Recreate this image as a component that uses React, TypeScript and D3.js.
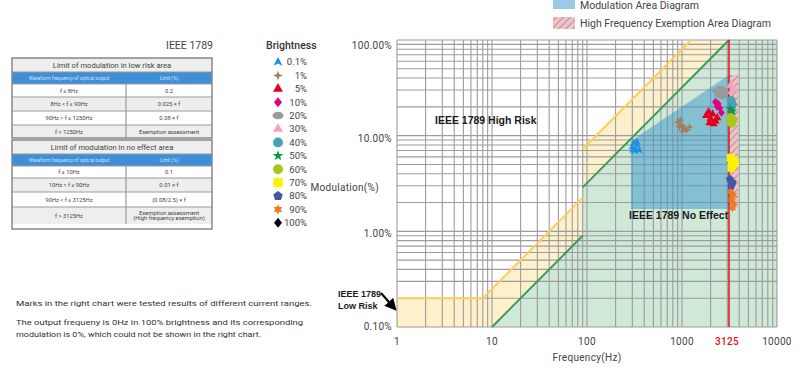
import React from 'react';
import * as d3 from 'd3';

// axis values
const xTicks = [1, 10, 100, 1000, 10000];
const yTicks = [0.1, 1, 10, 100];
const yTickLabels = ['0.10%', '1.00%', '10.00%', '100.00%'];
const exemptFreq = 3125;

// IEEE 1789 limit lines [freq Hz, modulation %]
const lowRiskLine = [[1, 0.2], [8, 0.2], [90, 2.25], [90, 7.2], [1250, 100]];
const noEffectLine = [[10, 0.1], [90, 0.9], [90, 2.88], [3125, 100]];
const modulationArea = [[290, 8.8], [3125, 43], [3125, 1.71], [290, 1.71]];
const exemptionArea = [[3125, 43], [3900, 43], [3900, 1.71], [3125, 1.71]];

// measured marks per brightness
const brightness = ['0.1%', '1%', '5%', '10%', '20%', '30%', '40%', '50%', '60%', '70%', '80%', '90%', '100%'];
const marks = [
  [[300, 7.6], [312, 8.4], [325, 7.2], [340, 7.9], [355, 7.0], [318, 6.9], [335, 8.6], [305, 7.1]],
  [[900, 13.8], [960, 14.6], [1000, 12.8], [1050, 12.0], [1120, 11.4], [1200, 12.3], [1010, 11.1], [940, 12.4]],
  [[1800, 16.2], [1900, 17.6], [2000, 15.0], [2100, 16.8], [2250, 14.2], [2350, 15.4], [1950, 13.6], [2150, 13.3]],
  [[2250, 22.5], [2400, 21.4], [2500, 19.5], [2600, 17.4], [2350, 20.2]],
  [[2350, 29.5], [2550, 30.8], [2800, 28.2], [2650, 26.0], [2450, 27.0]],
  [[3250, 33.5], [3450, 32.0], [3350, 28.8], [3600, 30.5]],
  [[3300, 23.5], [3420, 21.2], [3330, 19.8]],
  [[3200, 19.2], [3420, 18.0], [3300, 16.6]],
  [[3250, 15.6], [3480, 14.6], [3350, 13.4], [3200, 14.0]],
  [[3250, 5.9], [3520, 5.5], [3350, 5.0], [3620, 5.2], [3300, 4.6]],
  [[3200, 3.5], [3420, 3.25], [3300, 2.95]],
  [[3250, 2.6], [3480, 2.4], [3300, 2.15], [3500, 1.95], [3400, 1.75]],
  [],
];
const markColors = ['#1e90e0', '#a87a58', '#e4001c', '#e2007e', '#9a9a9a', '#f3a3c3', '#47a2b8', '#0a9a48', '#a6c81e', '#fff200', '#4356a8', '#f07a1e', '#000000'];
const markShapes = ['arrow', 'sparkle', 'tri', 'diamond', 'ellipse', 'tri', 'circle', 'star', 'circle', 'square', 'pentagon', 'star6', 'diamond'];

// tables
const lowRiskRows = [
  ['f ≤ 8Hz', '0.2'],
  ['8Hz < f ≤ 90Hz', '0.025 × f'],
  ['90Hz < f ≤ 1250Hz', '0.08 × f'],
  ['f > 1250Hz', 'Exemption assessment'],
];
const noEffectRows = [
  ['f ≤ 10Hz', '0.1'],
  ['10Hz < f ≤ 90Hz', '0.01 × f'],
  ['90Hz < f ≤ 3125Hz', '(0.08/2.5) × f'],
  ['f > 3125Hz', 'Exemption assessment|(High frequency exemption)'],
];

const FONT = 'Roboto, "Noto Sans", sans-serif';
const BOLD = '"Liberation Sans", Arial, sans-serif';

function starPath(n: number, ro: number, ri: number, rot = -Math.PI / 2) {
  const p: string[] = [];
  for (let i = 0; i < n * 2; i++) {
    const r = i % 2 === 0 ? ro : ri;
    const a = rot + (i * Math.PI) / n;
    p.push(`${(r * Math.cos(a)).toFixed(2)},${(r * Math.sin(a)).toFixed(2)}`);
  }
  return 'M' + p.join('L') + 'Z';
}

function polyPath(n: number, r: number) {
  const p: string[] = [];
  for (let i = 0; i < n; i++) {
    const a = -Math.PI / 2 + (i * 2 * Math.PI) / n;
    p.push(`${(r * Math.cos(a)).toFixed(2)},${(r * Math.sin(a)).toFixed(2)}`);
  }
  return 'M' + p.join('L') + 'Z';
}

function shapePath(shape: string, r: number) {
  switch (shape) {
    case 'arrow':
      return `M0,${-r}L${r * 0.9},${r * 0.75}L0,${r * 0.3}L${-r * 0.9},${r * 0.75}Z`;
    case 'sparkle':
      return starPath(4, r, r * 0.35);
    case 'tri':
      return d3.symbol(d3.symbolTriangle, r * r * 1.7)()!;
    case 'diamond':
      return `M0,${-r}L${r * 0.8},0L0,${r}L${-r * 0.8},0Z`;
    case 'ellipse':
      return `M${-r * 1.1},0A${r * 1.1},${r * 0.75} 0 1,0 ${r * 1.1},0A${r * 1.1},${r * 0.75} 0 1,0 ${-r * 1.1},0Z`;
    case 'circle':
      return d3.symbol(d3.symbolCircle, r * r * 3.1)()!;
    case 'star':
      return starPath(5, r * 1.1, r * 0.45);
    case 'square':
      return d3.symbol(d3.symbolSquare, r * r * 3.4)()!;
    case 'pentagon':
      return polyPath(5, r);
    case 'star6':
      return starPath(6, r, r * 0.55);
    default:
      return d3.symbol(d3.symbolCircle, r * r * 3)()!;
  }
}

function Table({ top, title, rows, heights }: { top: number; title: string; rows: string[][]; heights: number[] }) {
  const left = 12, right = 212, mid = 126;
  let yy = top + 14 + 12;
  return (
    <g>
      <rect x={left} y={top} width={right - left} height={14} fill="#eeeeee" />
      <text x={(left + right) / 2} y={top + 7} dy="0.35em" textAnchor="middle" fontSize={7.6} fill="#444">{title}</text>
      <rect x={left} y={top + 14} width={right - left} height={12} fill="#3f8fd8" />
      <text x={(left + mid) / 2} y={top + 20} dy="0.35em" textAnchor="middle" fontSize={4.8} fill="#cfe3f6">Waveform frequency of optical output</text>
      <text x={(mid + right) / 2} y={top + 20} dy="0.35em" textAnchor="middle" fontSize={4.8} fill="#cfe3f6">Limit (%)</text>
      {rows.map((r, i) => {
        const h = heights[i];
        const y0 = yy;
        yy += h;
        const parts = r[1].split('|');
        return (
          <g key={i}>
            <rect x={left} y={y0} width={right - left} height={h} fill={i % 2 === 0 ? '#ffffff' : '#eeeeee'} />
            <line x1={left} x2={right} y1={y0} y2={y0} stroke="#999" strokeWidth={1.2} />
            <line x1={mid} x2={mid} y1={y0} y2={y0 + h} stroke="#999" strokeWidth={1.2} />
            <text x={(left + mid) / 2} y={y0 + h / 2} dy="0.35em" textAnchor="middle" fontSize={5.8} fill="#444">{r[0]}</text>
            {parts.map((p, j) => (
              <text key={j} x={(mid + right) / 2} y={y0 + h / 2 + (j - (parts.length - 1) / 2) * 5.6} dy="0.35em" textAnchor="middle" fontSize={5.8} fill="#444">{p}</text>
            ))}
          </g>
        );
      })}
      <line x1={left} x2={right} y1={top + 14} y2={top + 14} stroke="#999" strokeWidth={1} />
    </g>
  );
}

export default function App() {
  const x = d3.scaleLog().domain([1, 10000]).range([397, 777]);
  const y = d3.scaleLog().domain([0.1, 100]).range([327, 40]);
  const line = d3.line<number[]>().x((d) => x(d[0])).y((d) => y(d[1]));
  // stroke only the sloped / flat parts, skip the vertical jumps at 90Hz
  const strokePath = (pts: number[][]) =>
    pts.slice(1).map((p, i) => (p[0] === pts[i][0] ? '' : line([pts[i], p]))).join('');

  const xGrid: number[] = [];
  for (let d = 0; d < 4; d++) for (let k = 1; k < 10; k++) xGrid.push(k * Math.pow(10, d));
  xGrid.push(10000);
  const yGrid: number[] = [];
  for (let d = -1; d < 2; d++) for (let k = 1; k < 10; k++) yGrid.push(k * Math.pow(10, d));
  yGrid.push(100);

  const yellowFill = [...lowRiskLine, [exemptFreq, 100], ...noEffectLine.slice().reverse(), [1, 0.1]];
  const greenFill = [...noEffectLine, [10000, 100], [10000, 0.1]];

  return (
    <svg width={800} height={369} style={{ position: 'absolute', left: 0, top: 0, fontFamily: FONT }}>
      <defs>
        <pattern id="hatch" patternUnits="userSpaceOnUse" width={5} height={5} patternTransform="rotate(45)">
          <rect width={5} height={5} fill="#f0c2c6" />
          <line x1={0} y1={0} x2={0} y2={5} stroke="#666" strokeWidth={1} />
        </pattern>
        <marker id="arrowHead" viewBox="0 0 10 10" refX={8} refY={5} markerWidth={6} markerHeight={6} orient="auto">
          <path d="M0,0L10,5L0,10Z" fill="#000" />
        </marker>
      </defs>

      {/* top legend */}
      <rect x={553} y={-2} width={22} height={11} fill="#3a96cc" fillOpacity={0.5} />
      <text x={580} y={5} dy="0.35em" fontSize={10.5} fill="#444">Modulation Area Diagram</text>
      <rect x={553} y={17} width={22} height={12} fill="url(#hatch)" />
      <text x={580} y={23.5} dy="0.35em" fontSize={10.5} fill="#444">High Frequency Exemption Area Diagram</text>

      {/* tables */}
      <text x={213} y={45} dy="0.35em" textAnchor="end" fontSize={10.5} fill="#444">IEEE 1789</text>
      <Table top={58} title="Limit of modulation in low risk area" rows={lowRiskRows} heights={[13, 14, 14, 13]} />
      <Table top={140} title="Limit of modulation in no effect area" rows={noEffectRows} heights={[12, 14, 15, 17]} />
      <rect x={12} y={58} width={200} height={80} fill="none" stroke="#888" strokeWidth={1.5} />
      <rect x={12} y={140} width={200} height={89} fill="none" stroke="#888" strokeWidth={1.5} />

      {/* brightness legend */}
      <text x={266} y={45} dy="0.35em" fontSize={10.5} fill="#333" fontWeight={500}>Brightness</text>
      {brightness.map((b, i) => (
        <g key={b} transform={`translate(0,${62 + i * 13.4})`}>
          <path d={shapePath(markShapes[i], 5)} transform="translate(278,0)" fill={markColors[i]} />
          <text x={307} y={0} dy="0.35em" textAnchor="end" fontSize={9.5} fill="#444">{b}</text>
        </g>
      ))}

      {/* notes */}
      <g fontSize={8} fill="#333">
        <text x={16} y={303} dy="0.35em" textLength={296} lengthAdjust="spacingAndGlyphs">Marks in the right chart were tested results of different current ranges.</text>
        <text x={16} y={322} dy="0.35em" textLength={287} lengthAdjust="spacingAndGlyphs">The output frequeny is 0Hz in 100% brightness and its corresponding</text>
        <text x={16} y={334} dy="0.35em" textLength={245} lengthAdjust="spacingAndGlyphs">modulation is 0%, which could not be shown in the right chart.</text>
      </g>

      {/* chart regions */}
      <path d={line(yellowFill as number[][])! + 'Z'} fill="#fdf0cb" />
      <path d={line(greenFill as number[][])! + 'Z'} fill="#cfe8d8" />

      {/* grid */}
      {xGrid.map((v) => (
        <line key={'x' + v} x1={x(v)} x2={x(v)} y1={y(100)} y2={y(0.1)} stroke="#9c9c9c" strokeWidth={1.1} />
      ))}
      {yGrid.map((v) => (
        <line key={'y' + v} x1={x(1)} x2={x(10000)} y1={y(v)} y2={y(v)} stroke="#9c9c9c" strokeWidth={1.1} />
      ))}

      {/* modulation & exemption areas */}
      <path d={line(modulationArea)! + 'Z'} fill="#3a96cc" fillOpacity={0.5} />
      <path d={line(exemptionArea)! + 'Z'} fill="url(#hatch)" />

      {/* limit lines */}
      <path d={strokePath(lowRiskLine)} fill="none" stroke="#fccf5c" strokeWidth={2} />
      <path d={strokePath(noEffectLine)} fill="none" stroke="#3d9a5c" strokeWidth={2} />
      <line x1={x(exemptFreq)} x2={x(exemptFreq)} y1={y(100)} y2={y(0.1)} stroke="#e8101c" strokeWidth={1.5} />

      {/* marks */}
      {marks.map((pts, i) =>
        pts.map((p, j) => (
          <path key={i + '-' + j} d={shapePath(markShapes[i], 4.2)} transform={`translate(${x(p[0])},${y(p[1])})`} fill={markColors[i]} />
        ))
      )}

      {/* annotations */}
      <g fontFamily={BOLD} fontWeight="bold" fill="#1a1a1a">
        <text x={435} y={120} dy="0.35em" fontSize={10.5}>IEEE 1789 High Risk</text>
        <text x={629} y={215} dy="0.35em" fontSize={10.5}>IEEE 1789 No Effect</text>
        <text x={338} y={294} dy="0.35em" fontSize={9}>IEEE 1789</text>
        <text x={338} y={306} dy="0.35em" fontSize={9}>Low Risk</text>
      </g>
      <line x1={381} y1={293} x2={395} y2={309} stroke="#000" strokeWidth={2} markerEnd="url(#arrowHead)" />

      {/* axes labels */}
      {yTicks.map((v, i) => (
        <text key={v} x={392} y={y(v) + (i === 3 ? 5 : i === 0 ? -1 : 2.5)} dy="0.35em" textAnchor="end" fontSize={10} fill="#444" letterSpacing={0.3}>{yTickLabels[i]}</text>
      ))}
      <text x={379} y={187} dy="0.35em" textAnchor="end" fontSize={10} fill="#444" letterSpacing={0.3}>Modulation(%)</text>
      {xTicks.map((v) => (
        <text key={v} x={x(v)} y={341} dy="0.35em" textAnchor="middle" fontSize={10} fill="#444" letterSpacing={0.3}>{v}</text>
      ))}
      <text x={x(exemptFreq) - 2} y={341} dy="0.35em" textAnchor="middle" fontSize={10} fill="#e8101c" fontWeight={500} letterSpacing={0.3}>{exemptFreq}</text>
      <text x={587} y={357} dy="0.35em" textAnchor="middle" fontSize={10} fill="#444" letterSpacing={0.3}>Frequency(Hz)</text>
    </svg>
  );
}
